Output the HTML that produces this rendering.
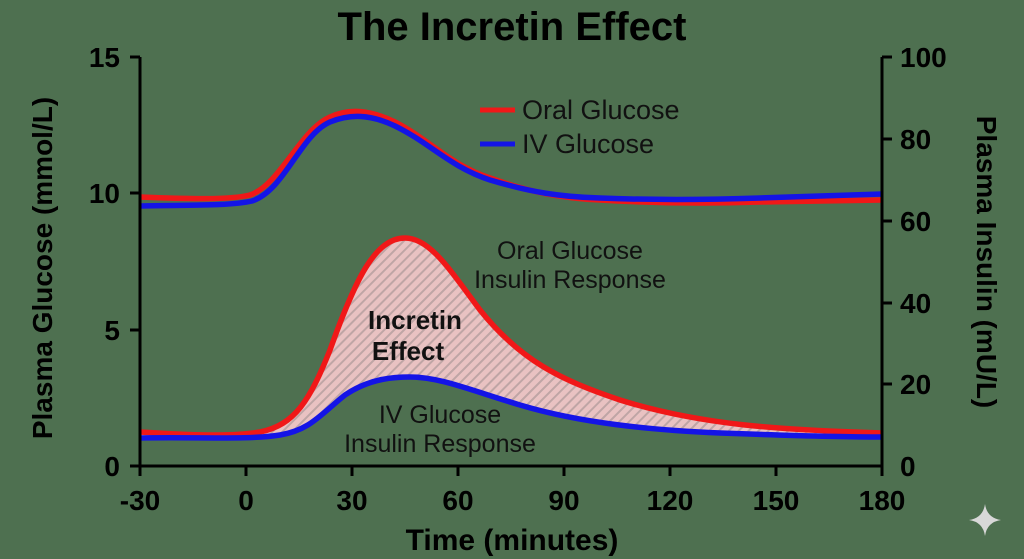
<!DOCTYPE html>
<html><head><style>body{margin:0;background:#4e7050;}svg{display:block}</style></head><body>
<svg width="1024" height="559" xmlns="http://www.w3.org/2000/svg" font-family="Liberation Sans, sans-serif">
<defs>
<pattern id="h" width="7" height="7" patternUnits="userSpaceOnUse" patternTransform="rotate(45)">
<rect width="7" height="7" fill="#e9c2c2"/><rect width="2" height="7" fill="#bfa5a5"/>
</pattern>
</defs>
<rect width="1024" height="559" fill="#4e7050"/>
<text x="512" y="40" text-anchor="middle" font-size="40" font-weight="bold" fill="#000">The Incretin Effect</text>
<path d="M140,432 C190,435 230,437 260,432 C295,425 310,400 330,350 C355,280 375,238 405,238 C430,238 450,270 480,310 C520,360 560,380 620,400 C700,425 780,430 882,433 L882,437 C850,437 800,436 720,433 C650,430 580,423 520,405 C470,390 440,377 410,377 C395,377 370,378 345,395 C320,415 310,430 280,435 C250,440 200,437 140,438 Z" fill="url(#h)"/>
<path d="M140,432 C190,435 230,437 260,432 C295,425 310,400 330,350 C355,280 375,238 405,238 C430,238 450,270 480,310 C520,360 560,380 620,400 C700,425 780,430 882,433" fill="none" stroke="#f01818" stroke-width="5.5"/>
<path d="M140,438 C200,437 250,440 280,435 C310,430 320,415 345,395 C370,378 395,377 410,377 C440,377 470,390 520,405 C580,423 650,430 720,433 C800,436 850,437 882,437" fill="none" stroke="#1414e6" stroke-width="5.5"/>
<path d="M140,197 C190,199 230,200 250,195 C280,185 300,130 330,117 C350,108 370,110 395,122 C430,140 450,165 490,178 C530,192 560,198 600,200 C650,203 700,204 760,202 C820,201 860,200 882,200" fill="none" stroke="#f01818" stroke-width="5.5"/>
<path d="M140,206 C190,205 230,206 252,201 C285,190 300,135 330,122 C350,114 370,114 395,126 C430,143 450,167 490,180 C530,192 560,197 600,198 C650,200 700,200 760,198 C820,196 860,195 882,194" fill="none" stroke="#1414e6" stroke-width="5.5"/>
<g stroke="#000" stroke-width="3" fill="none">
<path d="M140,57 V466 H882 V57"/>
<path d="M130,57H140M130,193H140M130,330H140M130,466H140"/>
<path d="M882,57H892M882,139H892M882,221H892M882,303H892M882,384H892"/>
<path d="M140,466V476M246,466V476M352,466V476M458,466V476M564,466V476M670,466V476M776,466V476M882,466V476"/>
</g>
<g font-size="28" font-weight="bold" fill="#000">
<g text-anchor="end"><text x="120" y="67">15</text><text x="120" y="203">10</text><text x="120" y="340">5</text><text x="120" y="476">0</text></g>
<g text-anchor="start"><text x="900" y="67">100</text><text x="900" y="149">80</text><text x="900" y="231">60</text><text x="900" y="313">40</text><text x="900" y="394">20</text><text x="900" y="476">0</text></g>
<g text-anchor="middle"><text x="140" y="510">-30</text><text x="246" y="510">0</text><text x="352" y="510">30</text><text x="458" y="510">60</text><text x="564" y="510">90</text><text x="670" y="510">120</text><text x="776" y="510">150</text><text x="882" y="510">180</text></g>
</g>
<text x="512" y="550" text-anchor="middle" font-size="30" font-weight="bold">Time (minutes)</text>
<text transform="translate(52,268) rotate(-90)" text-anchor="middle" font-size="28" font-weight="bold">Plasma Glucose (mmol/L)</text>
<text transform="translate(977,262) rotate(90)" text-anchor="middle" font-size="28" font-weight="bold">Plasma Insulin (mU/L)</text>
<line x1="480" y1="110" x2="515" y2="110" stroke="#f01818" stroke-width="5"/>
<line x1="480" y1="144" x2="515" y2="144" stroke="#1414e6" stroke-width="5"/>
<g font-size="27" fill="#111"><text x="522" y="119">Oral Glucose</text><text x="522" y="153">IV Glucose</text></g>
<g font-size="25" fill="#111" text-anchor="middle">
<text x="570" y="259">Oral Glucose</text><text x="570" y="288">Insulin Response</text>
<text x="440" y="423">IV Glucose</text><text x="440" y="452">Insulin Response</text>
</g>
<g font-size="26" font-weight="bold" text-anchor="middle" fill="#111"><text x="415" y="329">Incretin</text><text x="408" y="360">Effect</text></g>
<path d="M985,504 Q987,518 1001,520 Q987,522 985,536 Q983,522 969,520 Q983,518 985,504Z" fill="#d8d8d8"/>
</svg>
</body></html>
